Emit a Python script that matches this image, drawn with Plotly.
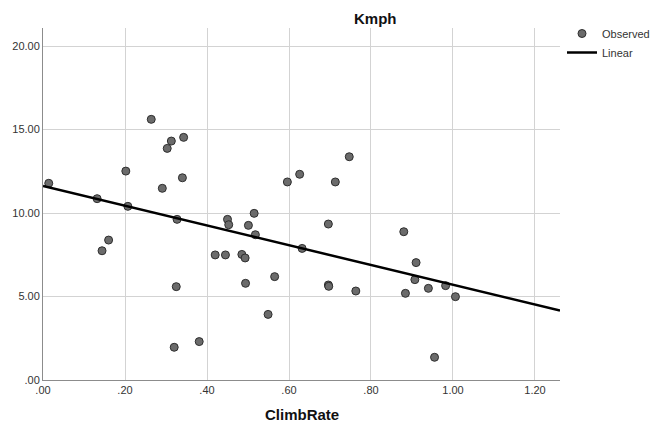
import numpy as np
import plotly.graph_objects as go

# Observed climb rate vs speed
climb_rate = [0.014, 0.132, 0.144, 0.160, 0.202, 0.207, 0.264, 0.291, 0.303, 0.313,
              0.343, 0.340, 0.327, 0.325, 0.320, 0.381, 0.420, 0.445, 0.450, 0.453,
              0.485, 0.493, 0.494, 0.501, 0.515, 0.518, 0.549, 0.565, 0.596, 0.626,
              0.632, 0.696, 0.696, 0.697, 0.713, 0.747, 0.763, 0.880, 0.884, 0.907,
              0.910, 0.940, 0.955, 0.982, 1.006]
kmph = [11.78, 10.86, 7.74, 8.38, 12.51, 10.40, 15.61, 11.48, 13.87, 14.31,
        14.53, 12.11, 9.62, 5.59, 1.96, 2.30, 7.49, 7.49, 9.62, 9.30,
        7.52, 7.31, 5.79, 9.26, 9.98, 8.70, 3.93, 6.19, 11.86, 12.32,
        7.88, 9.34, 5.69, 5.61, 11.86, 13.37, 5.33, 8.88, 5.19, 6.01,
        7.03, 5.49, 1.36, 5.65, 4.99]

x_ticks = [0.0, 0.2, 0.4, 0.6, 0.8, 1.0, 1.2]
x_tick_labels = [".00", ".20", ".40", ".60", ".80", "1.00", "1.20"]
y_ticks = [0, 5, 10, 15, 20]
y_tick_labels = [".00", "5.00", "10.00", "15.00", "20.00"]

x_range = [0, 1.261]
y_range = [0, 21.08]

# Least-squares linear fit across the full x range
slope, intercept = np.polyfit(climb_rate, kmph, 1)
fit_x = np.array(x_range)
fit_y = intercept + slope * fit_x

font_family = "Liberation Sans, Arial, sans-serif"

# Plot area geometry in pixels
W, H = 656, 423
L, R, T, B = 43, 96, 28, 43
PW, PH = W - L - R, H - T - B


def px_x(px):
    return (px - L) / PW


def px_y(py):
    return (H - B - py) / PH


fig = go.Figure()
fig.add_trace(go.Scatter(
    x=climb_rate, y=kmph, mode="markers", name="Observed",
    marker=dict(size=8, color="#6b6b6b", line=dict(color="#2e2e2e", width=1)),
))
fig.add_trace(go.Scatter(
    x=fit_x, y=fit_y, mode="lines", name="Linear",
    line=dict(color="#000000", width=2.5),
))

axis_common = dict(
    showgrid=True, gridcolor="#d3d3d3", gridwidth=1,
    showline=True, linecolor="#8c8c8c", linewidth=1,
    zeroline=False, ticks="", fixedrange=True,
    tickfont=dict(family=font_family, size=11, color="#333333"),
)

fig.update_layout(
    width=W, height=H,
    margin=dict(l=L, r=R, t=T, b=B, autoexpand=False),
    paper_bgcolor="white", plot_bgcolor="white",
    font=dict(family=font_family, color="#222222"),
    xaxis=dict(range=x_range, tickvals=x_ticks, ticktext=x_tick_labels, **axis_common),
    yaxis=dict(range=y_range, tickvals=y_ticks, ticktext=y_tick_labels, **axis_common),
    showlegend=True,
    legend=dict(
        x=px_x(562), y=px_y(19), xanchor="left", yanchor="top",
        xref="paper", yref="paper",
        font=dict(family=font_family, size=11, color="#333333"),
        itemwidth=30, tracegroupgap=0, bgcolor="rgba(0,0,0,0)",
    ),
    annotations=[
        dict(text="<b>Kmph</b>", xref="paper", yref="paper",
             x=px_x(375), y=px_y(18), xanchor="center", yanchor="middle",
             showarrow=False, font=dict(family=font_family, size=15, color="#111111")),
        dict(text="<b>ClimbRate</b>", xref="paper", yref="paper",
             x=px_x(302), y=px_y(414), xanchor="center", yanchor="middle",
             showarrow=False, font=dict(family=font_family, size=15, color="#111111")),
    ],
)

fig.write_html("out.html")
